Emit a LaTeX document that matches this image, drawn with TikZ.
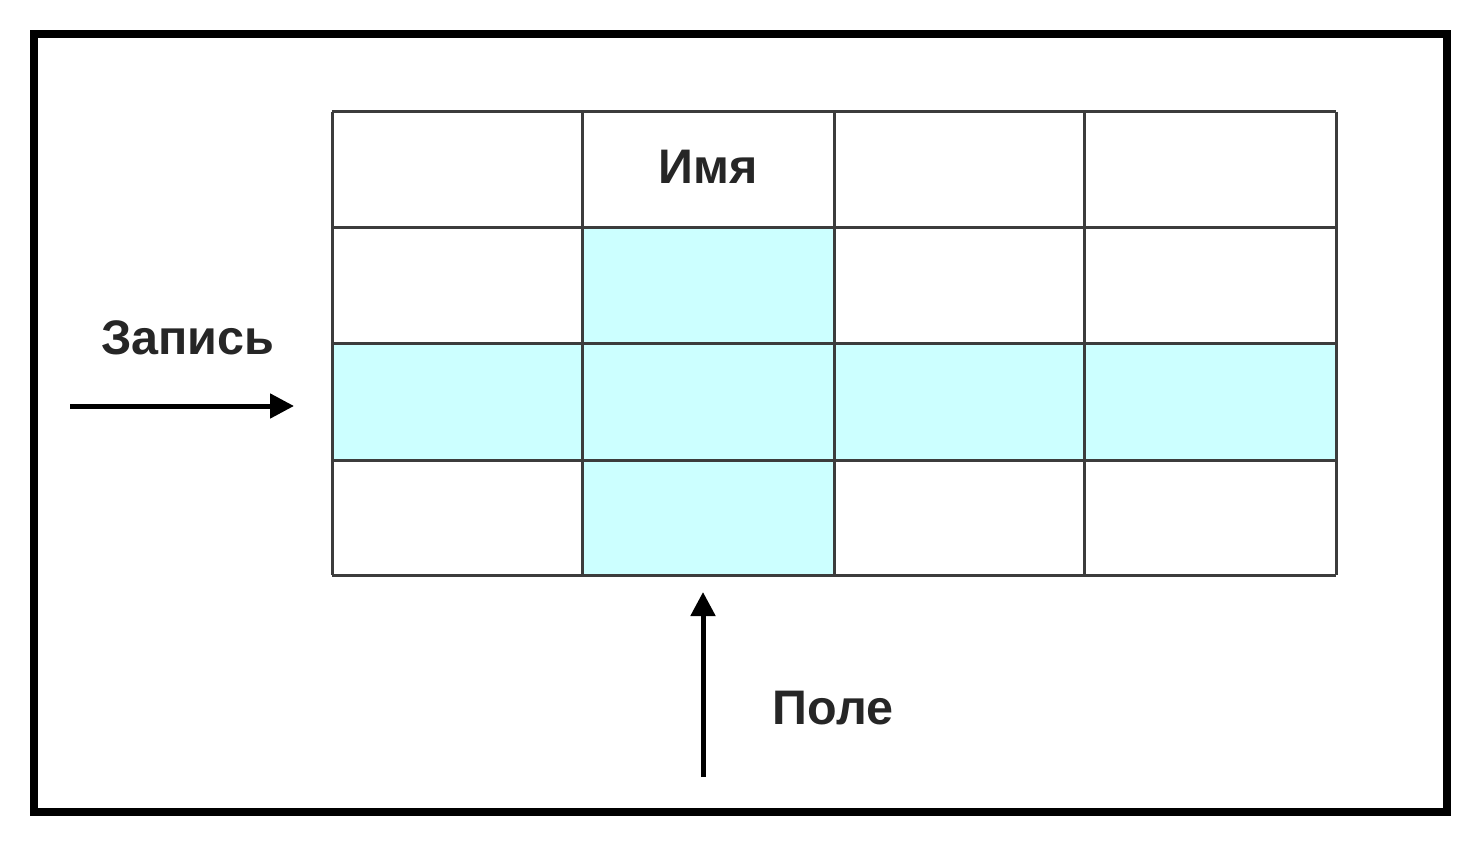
\documentclass[tikz,border=0pt]{standalone}
\usepackage{fontspec}
\setmainfont{Liberation Sans}
\usetikzlibrary{arrows.meta}
\definecolor{cellcyan}{HTML}{CCFFFF}
\definecolor{gridgray}{HTML}{3C3C3C}
\tikzset{
  frame/.style={draw=black, line width=8pt},
  gridline/.style={draw=gridgray, line width=3pt},
  hlfill/.style={fill=cellcyan, draw=none},
  label/.style={font=\fontsize{48.5}{58}\selectfont\bfseries, text=black!85, inner sep=0pt},
  pointer/.style={line width=5pt, -{Triangle[length=24pt,width=24pt]}}
}
\begin{document}
\begin{tikzpicture}[x=1pt,y=-1pt]
\useasboundingbox (0,0) rectangle (1474,840);
\fill[white] (0,0) rectangle (1474,840);
\draw[frame] (34,34) rectangle (1447,812);
% highlighted cells
\path[hlfill] (582,227) rectangle (834,575);
\path[hlfill] (332,343) rectangle (1336,460);
% grid
\foreach \x in {332,582,834,1084,1336} \draw[gridline] (\x,112) -- (\x,575);
\foreach \y in {112,227,343,460,575} \draw[gridline] (332,\y) -- (1336,\y);
% labels
\node[label] (name) at (708,167) {Имя};
\node[label] (record) at (188,338) {Запись};
\node[label] (field) at (833,708) {Поле};
% arrows
\coordinate (recstart) at (70,406);
\coordinate (recend) at (294,406);
\coordinate (fieldstart) at (703,777);
\coordinate (fieldend) at (703,592);
\draw[pointer] (recstart) -- (recend);
\draw[pointer] (fieldstart) -- (fieldend);
\end{tikzpicture}
\end{document}
